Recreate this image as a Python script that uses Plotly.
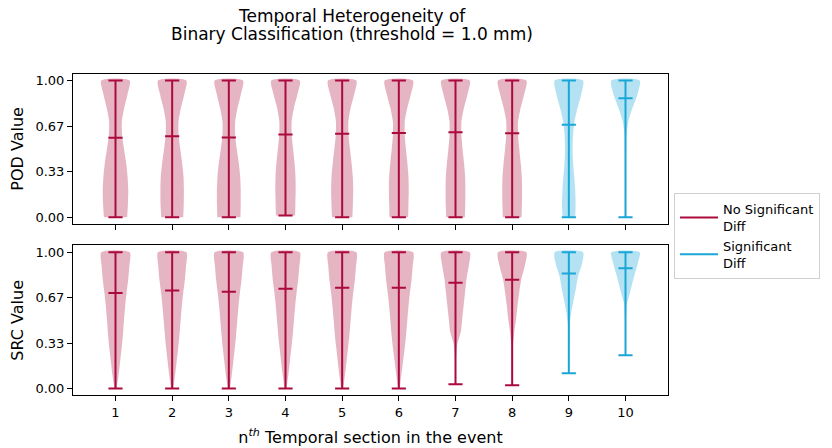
import plotly.graph_objects as go

sections = [1, 2, 3, 4, 5, 6, 7, 8, 9, 10]
significant = [False, False, False, False, False, False, False, False, True, True]

pod_min = [0.0, 0.0, 0.0, 0.012, 0.0, 0.0, 0.0, 0.0, 0.0, 0.0]
pod_max = [1.0, 1.0, 1.0, 1.0, 1.0, 1.0, 1.0, 1.0, 1.0, 1.0]
pod_mean = [0.581, 0.593, 0.583, 0.605, 0.61, 0.617, 0.622, 0.615, 0.676, 0.871]

src_min = [0.0, 0.0, 0.0, 0.0, 0.0, 0.0, 0.031, 0.024, 0.112, 0.243]
src_max = [1.0, 1.0, 1.0, 1.0, 1.0, 1.0, 1.0, 1.0, 1.0, 1.0]
src_mean = [0.70, 0.72, 0.71, 0.732, 0.739, 0.739, 0.776, 0.798, 0.844, 0.883]

# relative half-widths of each violin, read at 11 even steps from min to max
pod_profiles = [
    [0.82, 0.88, 0.90, 0.85, 0.75, 0.60, 0.47, 0.45, 0.62, 0.85, 1.00],
    [0.78, 0.82, 0.83, 0.80, 0.70, 0.57, 0.46, 0.45, 0.62, 0.86, 1.00],
    [0.82, 0.84, 0.84, 0.80, 0.70, 0.56, 0.45, 0.45, 0.62, 0.85, 1.00],
    [0.68, 0.70, 0.72, 0.70, 0.63, 0.53, 0.44, 0.44, 0.60, 0.85, 1.00],
    [0.72, 0.76, 0.78, 0.75, 0.66, 0.55, 0.45, 0.44, 0.60, 0.85, 1.00],
    [0.66, 0.68, 0.70, 0.68, 0.60, 0.50, 0.42, 0.42, 0.60, 0.85, 1.00],
    [0.66, 0.69, 0.70, 0.68, 0.60, 0.50, 0.42, 0.42, 0.60, 0.85, 1.00],
    [0.66, 0.69, 0.70, 0.68, 0.60, 0.50, 0.42, 0.42, 0.60, 0.85, 1.00],
    [0.45, 0.48, 0.45, 0.38, 0.30, 0.27, 0.30, 0.40, 0.62, 0.88, 1.00],
    [0.04, 0.04, 0.04, 0.04, 0.04, 0.05, 0.06, 0.20, 0.50, 0.85, 1.00],
]
src_profiles = [
    [0.08, 0.22, 0.33, 0.44, 0.53, 0.60, 0.68, 0.78, 0.90, 0.98, 1.00],
    [0.08, 0.21, 0.32, 0.43, 0.52, 0.60, 0.68, 0.78, 0.90, 0.98, 1.00],
    [0.08, 0.21, 0.32, 0.43, 0.52, 0.60, 0.68, 0.78, 0.90, 0.98, 1.00],
    [0.07, 0.20, 0.31, 0.42, 0.52, 0.60, 0.68, 0.78, 0.90, 0.98, 1.00],
    [0.07, 0.20, 0.31, 0.42, 0.52, 0.60, 0.68, 0.78, 0.90, 0.98, 1.00],
    [0.06, 0.18, 0.30, 0.42, 0.52, 0.60, 0.68, 0.78, 0.90, 0.98, 1.00],
    [0.03, 0.03, 0.04, 0.12, 0.38, 0.48, 0.58, 0.68, 0.78, 0.94, 1.00],
    [0.03, 0.03, 0.03, 0.06, 0.15, 0.28, 0.38, 0.50, 0.65, 0.90, 1.00],
    [0.03, 0.03, 0.03, 0.04, 0.06, 0.17, 0.33, 0.50, 0.65, 0.92, 1.00],
    [0.03, 0.03, 0.03, 0.03, 0.05, 0.10, 0.30, 0.48, 0.68, 0.88, 1.00],
]

RED = "#AB0A3D"
BLUE = "#1AA6D7"
RED_FILL = "rgba(171,10,61,0.3)"
BLUE_FILL = "rgba(26,166,215,0.33)"
HALF = 0.25   # max violin half width (widths=0.5)
CAP = 0.125   # cap half width

# page body margin shifts the figure, so positions are taken 8px up/left
W, H, OFF = 832, 448, 8


def px_x(p):
    return (p - OFF) / W


def px_y(p):
    return 1 - (p - OFF) / H


fig = go.Figure()


def add_panel(mins, maxs, means, profiles, xa, ya, show_legend):
    for i, s in enumerate(sections):
        lo, hi = mins[i], maxs[i]
        prof = profiles[i]
        n = len(prof)
        ys = [lo + (hi - lo) * k / (n - 1) for k in range(n)]
        xs = [s + HALF * w for w in prof] + [s - HALF * w for w in prof[::-1]]
        fig.add_trace(go.Scatter(
            x=xs, y=ys + ys[::-1], mode="lines", fill="toself",
            fillcolor=BLUE_FILL if significant[i] else RED_FILL,
            line=dict(width=0, shape="spline", smoothing=0.7),
            hoverinfo="skip", showlegend=False, xaxis=xa, yaxis=ya,
        ))
    for sig, color, name in [(False, RED, "No Significant<br>Diff"),
                             (True, BLUE, "Significant<br>Diff")]:
        lx, ly = [], []
        for i, s in enumerate(sections):
            if significant[i] != sig:
                continue
            lx += [s, s, None]
            ly += [mins[i], maxs[i], None]
            for v in (mins[i], maxs[i], means[i]):
                lx += [s - CAP, s + CAP, None]
                ly += [v, v, None]
        fig.add_trace(go.Scatter(
            x=lx, y=ly, mode="lines", line=dict(color=color, width=2),
            name=name, showlegend=show_legend, legendgroup=name,
            xaxis=xa, yaxis=ya,
        ))


add_panel(pod_min, pod_max, pod_mean, pod_profiles, "x", "y", True)
add_panel(src_min, src_max, src_mean, src_profiles, "x2", "y2", False)

axis_style = dict(
    showline=True, linecolor="black", linewidth=1, mirror=True,
    ticks="outside", ticklen=5, tickcolor="black", showgrid=False,
    zeroline=False, tickfont=dict(size=13, color="black"),
)
yvals = [0, 1 / 3, 2 / 3, 1]
ytext = ["0.00", "0.33", "0.67", "1.00"]
xdom = [px_x(73), px_x(668)]

fig.update_layout(
    width=W, height=H,
    margin=dict(l=0, r=0, t=0, b=0),
    paper_bgcolor="white", plot_bgcolor="white",
    font=dict(family="DejaVu Sans", size=13, color="black"),
    xaxis=dict(domain=xdom, range=[0.25, 10.75], tickvals=sections,
               showticklabels=False, anchor="y", **axis_style),
    yaxis=dict(domain=[px_y(224), px_y(73)], range=[-0.05, 1.05],
               tickvals=yvals, ticktext=ytext, anchor="x",
               title=dict(text="POD Value", standoff=8), **axis_style),
    xaxis2=dict(domain=xdom, range=[0.25, 10.75], tickvals=sections,
                anchor="y2",
                title=dict(text="n<sup><i>th</i></sup> Temporal section in the event",
                           standoff=12),
                **axis_style),
    yaxis2=dict(domain=[px_y(396), px_y(245.5)], range=[-0.05, 1.05],
                tickvals=yvals, ticktext=ytext, anchor="x2",
                title=dict(text="SRC Value", standoff=8), **axis_style),
    legend=dict(x=px_x(674), y=px_y(193), xanchor="left", yanchor="top",
                bordercolor="#d0d0d0", borderwidth=1, bgcolor="white",
                font=dict(size=13), itemwidth=38, tracegroupgap=0),
    annotations=[
        dict(text="Temporal Heterogeneity of", x=px_x(352), y=px_y(15),
             xref="paper", yref="paper", showarrow=False,
             font=dict(size=17), xanchor="center", yanchor="middle"),
        dict(text="Binary Classification (threshold = 1.0 mm)", x=px_x(352),
             y=px_y(33), xref="paper", yref="paper", showarrow=False,
             font=dict(size=17), xanchor="center", yanchor="middle"),
    ],
)

fig.write_html("out.html")
